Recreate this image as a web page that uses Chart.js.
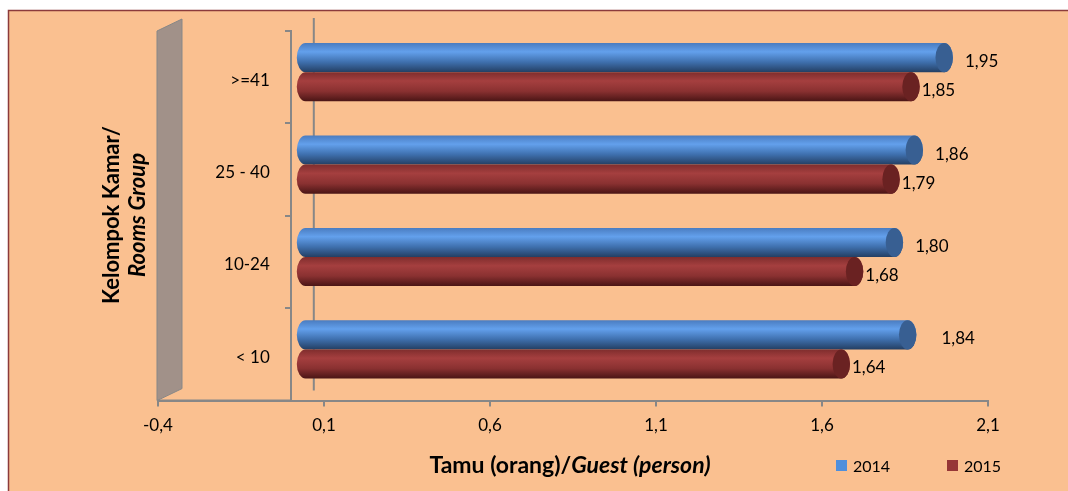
<!DOCTYPE html>
<html>
<head>
<meta charset="utf-8">
<script src="https://cdn.jsdelivr.net/npm/chart.js@4.4.1/dist/chart.umd.min.js"></script>
<style>
  html, body { margin: 0; padding: 0; background: #fff; }
  #wrap { width: 1068px; height: 491px; }
</style>
</head>
<body>
<div id="wrap"><canvas id="chart" width="1068" height="491"></canvas></div>
<script>
// Data
const categories = ['>=41', '25 - 40', '10-24', '< 10']
const seriesNames = ['2014', '2015']
const values2014 = [1.95, 1.86, 1.80, 1.84]
const values2015 = [1.85, 1.79, 1.68, 1.64]
const xTicks = [-0.4, 0.1, 0.6, 1.1, 1.6, 2.1]

const FONT = 'Lato, "Open Sans", sans-serif'
const AXIS_GREY = '#878787'
const DEPTH_X = 6
const DEPTH_Y = -5

// kleuren van de cilinders (licht, midden, donker, dop)
const barStyles = [
    { top: '#4a7cc0', mid: '#63a0ec', low: '#3f70ae', bottom: '#243f63', cap: '#385f92' },
    { top: '#7f2d2d', mid: '#a53f3f', low: '#8a3131', bottom: '#4a1515', cap: '#6a2222' }
]

function fmt(v) {
    return v.toFixed(2).replace('.', ',')
}

// achtergrond + kader
const framePlugin = {
    id: 'frame',
    beforeDraw(chart) {
        const ctx = chart.ctx
        ctx.save()
        ctx.fillStyle = '#ffffff'
        ctx.fillRect(0, 0, chart.width, chart.height)
        ctx.fillStyle = '#fac090'
        ctx.fillRect(8, 10, chart.width, chart.height)
        ctx.strokeStyle = '#8c3b3b'
        ctx.lineWidth = 1.5
        ctx.strokeRect(8.5, 10.5, chart.width + 10, chart.height + 10)
        ctx.restore()
    },
    beforeDatasetsDraw(chart) {
        // grijze 3D wand + achterste lijn
        const ctx = chart.ctx
        const x = chart.scales.x
        const area = chart.chartArea
        const left = x.getPixelForValue(xTicks[0]) - 1
        ctx.save()
        ctx.fillStyle = '#a19189'
        ctx.strokeStyle = AXIS_GREY
        ctx.lineWidth = 1
        ctx.beginPath()
        ctx.moveTo(left, area.top)
        ctx.lineTo(left + 25, area.top - 12)
        ctx.lineTo(left + 25, area.bottom - 12)
        ctx.lineTo(left, area.bottom)
        ctx.closePath()
        ctx.fill()
        ctx.stroke()

        const back = x.getPixelForValue(0) + 23
        ctx.lineWidth = 2
        ctx.beginPath()
        ctx.moveTo(back, area.top - 13)
        ctx.lineTo(back, area.bottom - 10)
        ctx.stroke()

        ctx.beginPath()
        ctx.moveTo(left, area.bottom)
        ctx.lineTo(x.getPixelForValue(0), area.bottom)
        ctx.stroke()
        ctx.restore()

        // categorie labels
        const y = chart.scales.y
        ctx.save()
        ctx.font = '17px ' + FONT
        ctx.fillStyle = '#000'
        ctx.textAlign = 'right'
        ctx.textBaseline = 'middle'
        categories.forEach((c, i) => {
            ctx.fillText(c, x.getPixelForValue(0) - 21, y.getPixelForValue(i) + 3)
        })
        ctx.restore()
    }
}

// cilinders tekenen op basis van de bar-elementen
const cylinderPlugin = {
    id: 'cylinders',
    afterDatasetsDraw(chart) {
        const ctx = chart.ctx
        chart.data.datasets.forEach((ds, di) => {
            const meta = chart.getDatasetMeta(di)
            const st = barStyles[di]
            meta.data.forEach((bar, i) => {
                let { x, y, base, height } = bar.getProps(['x', 'y', 'base', 'height'], true)
                x += DEPTH_X
                base += DEPTH_X
                y += DEPTH_Y
                const top = y - height / 2
                const rx = height * 0.3
                const grad = ctx.createLinearGradient(0, top, 0, top + height)
                grad.addColorStop(0, st.top)
                grad.addColorStop(0.3, st.mid)
                grad.addColorStop(0.65, st.low)
                grad.addColorStop(1, st.bottom)
                ctx.save()
                ctx.fillStyle = grad
                ctx.beginPath()
                ctx.moveTo(base + rx, top)
                ctx.lineTo(x, top)
                ctx.ellipse(x, y, rx, height / 2, 0, -Math.PI / 2, Math.PI / 2)
                ctx.lineTo(base + rx, top + height)
                ctx.ellipse(base + rx, y, rx, height / 2, 0, Math.PI / 2, Math.PI * 1.5)
                ctx.closePath()
                ctx.fill()
                ctx.fillStyle = st.cap
                ctx.beginPath()
                ctx.ellipse(x, y, rx, height / 2, 0, 0, Math.PI * 2)
                ctx.fill()
                ctx.restore()

                // waarde label
                ctx.save()
                ctx.font = '17px ' + FONT
                ctx.fillStyle = '#000'
                ctx.textBaseline = 'middle'
                const off = di === 0 ? (i === 3 ? 25 : 12) : 2
                ctx.fillText(fmt(ds.data[i]), x + rx + off, y + 4)
                ctx.restore()
            })
        })
    },
    afterDraw(chart) {
        const ctx = chart.ctx
        ctx.save()
        ctx.fillStyle = '#000'
        ctx.textBaseline = 'middle'

        // as titel onder
        const part1 = 'Tamu (orang)/'
        const part2 = 'Guest (person)'
        ctx.font = 'bold 23px ' + FONT
        const w1 = ctx.measureText(part1).width
        ctx.font = 'italic bold 23px ' + FONT
        const w2 = ctx.measureText(part2).width
        const cx = 570
        let sx = cx - (w1 + w2) / 2
        ctx.font = 'bold 23px ' + FONT
        ctx.fillText(part1, sx, 466)
        ctx.font = 'italic bold 23px ' + FONT
        ctx.fillText(part2, sx + w1, 466)

        // as titel links
        ctx.translate(112, 215)
        ctx.rotate(-Math.PI / 2)
        ctx.textAlign = 'center'
        ctx.font = 'bold 22px ' + FONT
        ctx.fillText('Kelompok Kamar/', 0, 0)
        ctx.font = 'italic bold 22px ' + FONT
        ctx.fillText('Rooms Group', 0, 26)
        ctx.restore()

        // legenda
        ctx.save()
        ctx.font = '16px ' + FONT
        ctx.textBaseline = 'middle'
        const legendX = [836, 947]
        seriesNames.forEach((name, i) => {
            ctx.fillStyle = i === 0 ? '#4f8fdc' : '#963636'
            ctx.fillRect(legendX[i], 460, 11, 11)
            ctx.fillStyle = '#000'
            ctx.fillText(name, legendX[i] + 17, 467)
        })
        ctx.restore()
    }
}

new Chart(document.getElementById('chart'), {
    type: 'bar',
    data: {
        labels: categories,
        datasets: [
            { label: seriesNames[0], data: values2014, backgroundColor: 'rgba(0,0,0,0)' },
            { label: seriesNames[1], data: values2015, backgroundColor: 'rgba(0,0,0,0)' }
        ]
    },
    options: {
        indexAxis: 'y',
        responsive: false,
        animation: false,
        events: [],
        layout: { padding: { left: 158, right: 80, top: 31, bottom: 46 } },
        datasets: { bar: { categoryPercentage: 0.63, barPercentage: 1 } },
        plugins: { legend: { display: false }, tooltip: { enabled: false } },
        scales: {
            x: {
                min: -0.4,
                max: 2.1,
                afterBuildTicks(scale) {
                    scale.ticks = xTicks.map(v => ({ value: v }))
                },
                grid: { drawOnChartArea: false, tickLength: 6, color: AXIS_GREY, lineWidth: 2 },
                border: { color: AXIS_GREY, width: 2 },
                ticks: {
                    color: '#000',
                    padding: 9,
                    font: { family: FONT, size: 17 },
                    callback: v => v.toFixed(1).replace('.', ',')
                }
            },
            y: {
                position: { x: 0 },
                grid: { drawOnChartArea: false, offset: true, tickLength: 5, color: AXIS_GREY, lineWidth: 2 },
                border: { color: AXIS_GREY, width: 2 },
                ticks: { display: false }
            }
        }
    },
    plugins: [framePlugin, cylinderPlugin]
})
</script>
</body>
</html>
